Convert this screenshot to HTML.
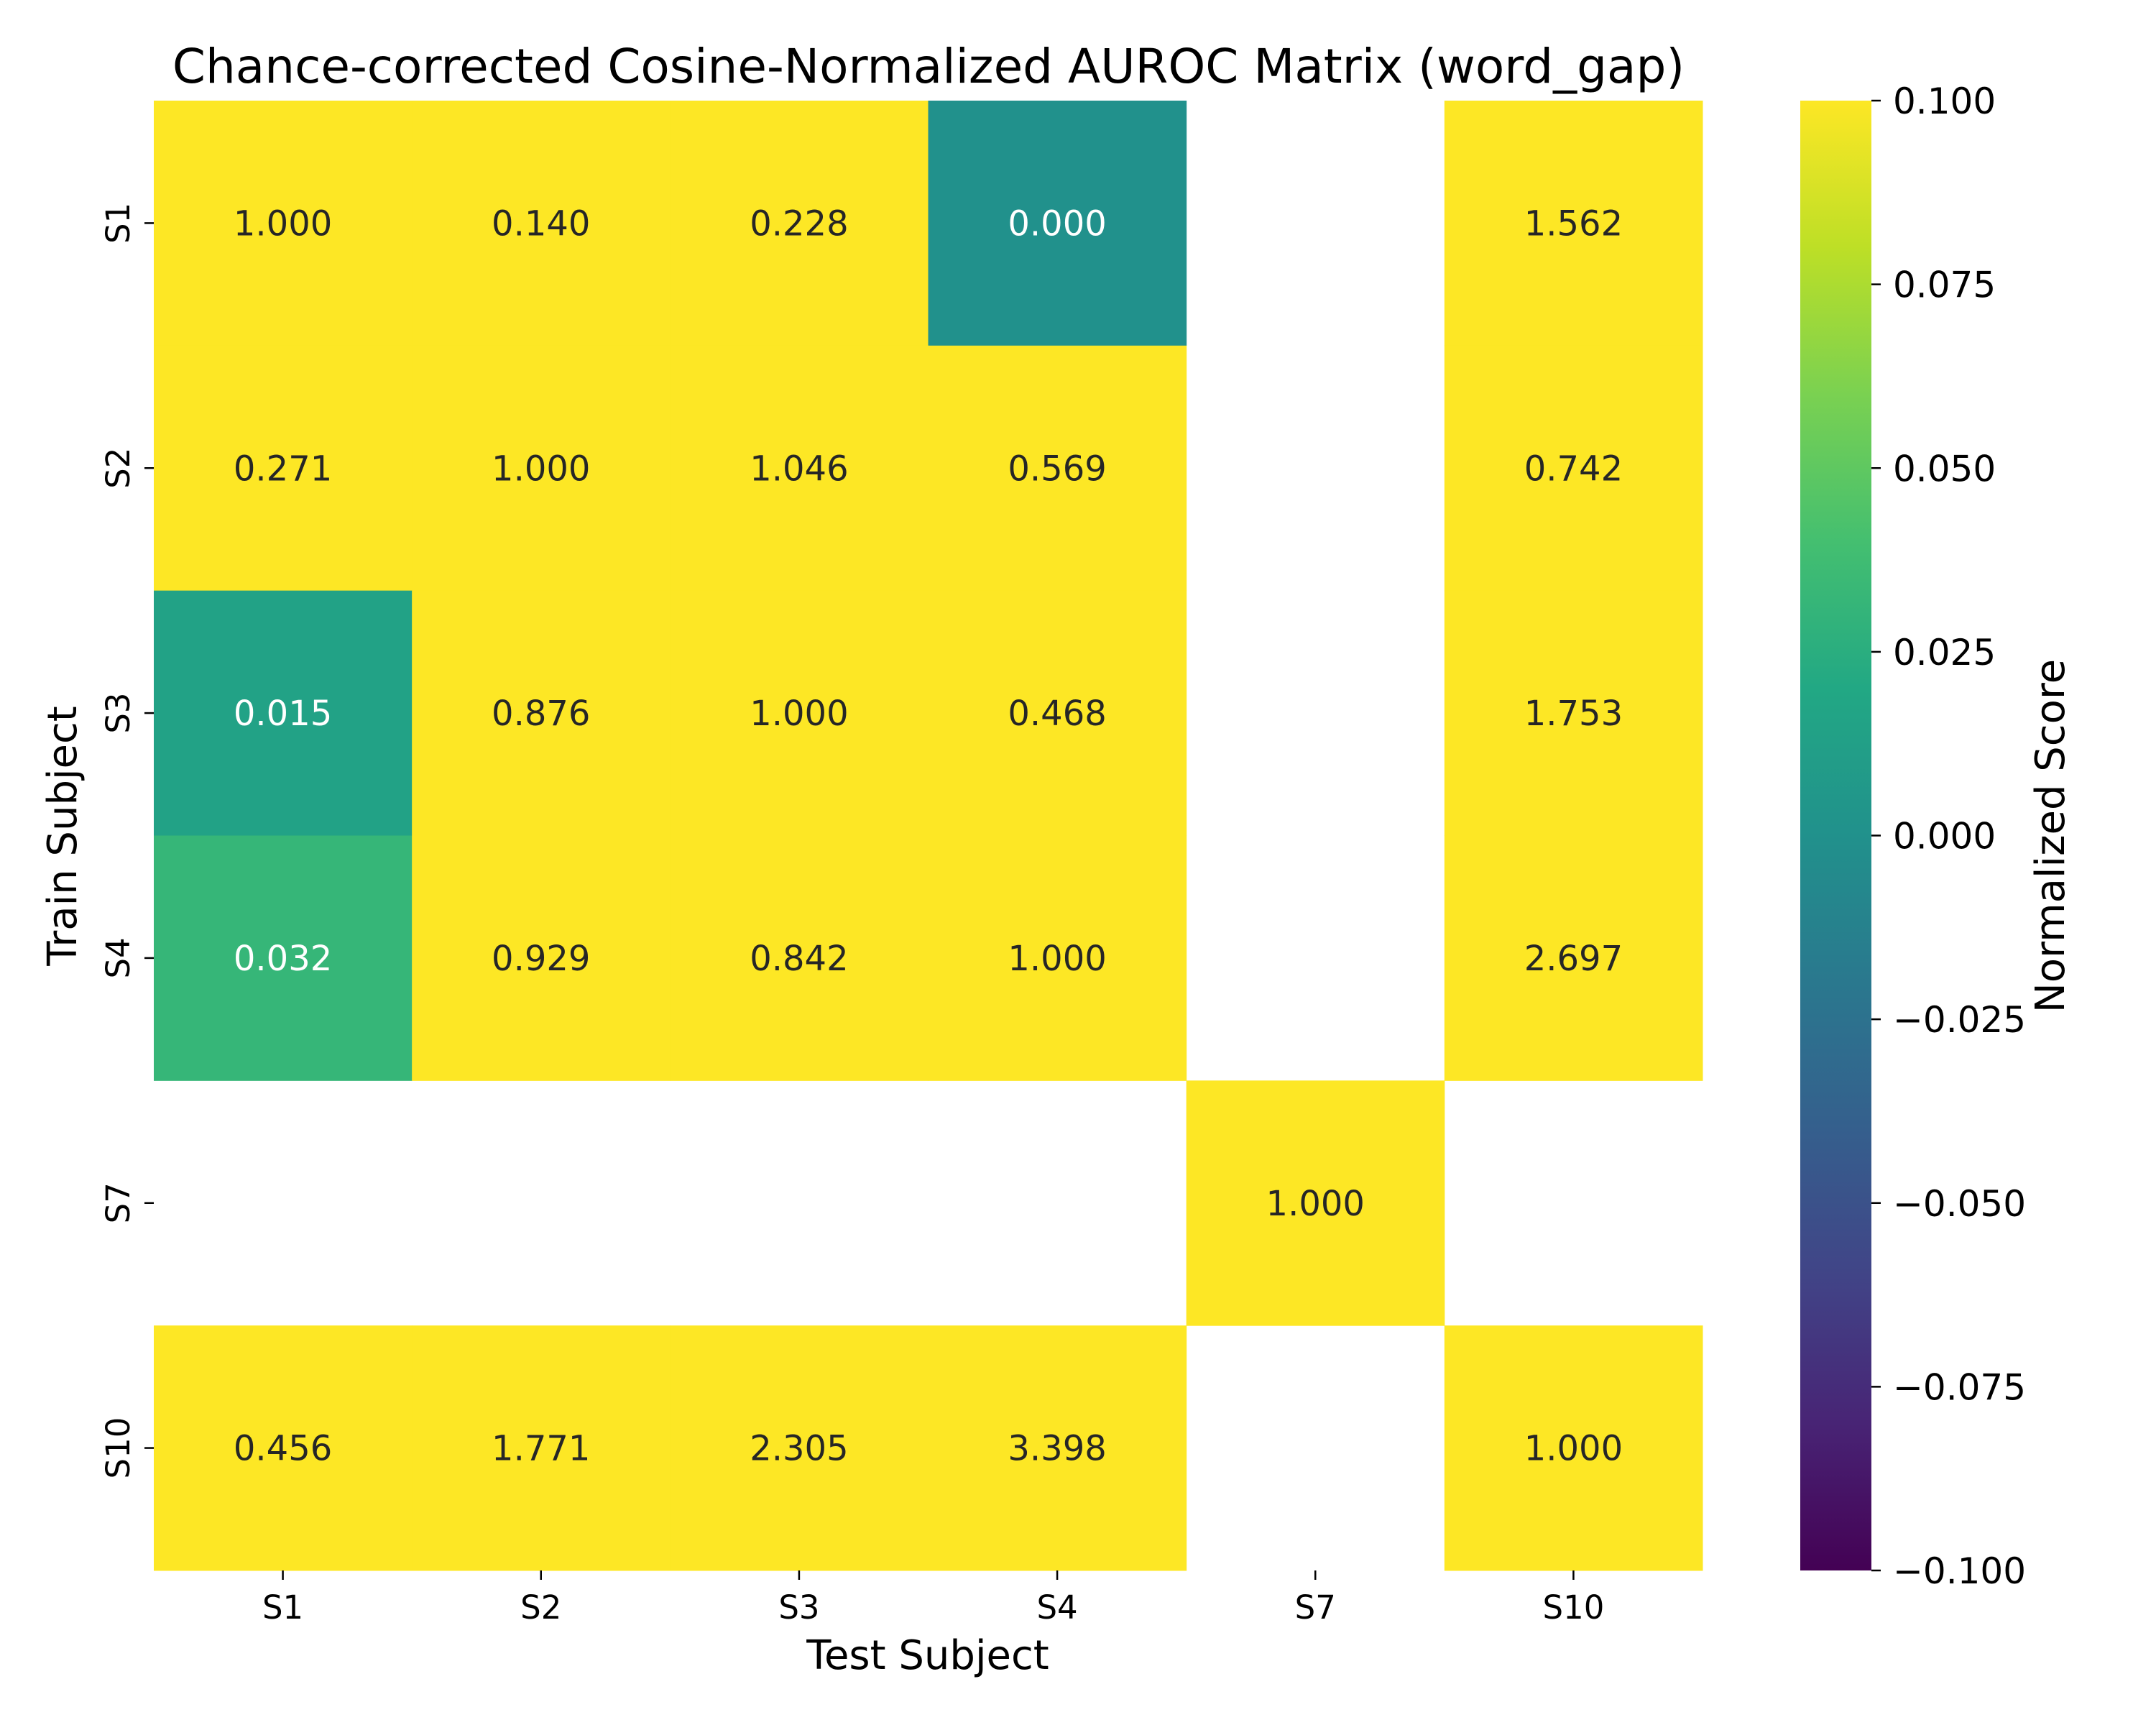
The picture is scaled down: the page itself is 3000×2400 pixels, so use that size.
<!DOCTYPE html>
<html><head><meta charset="utf-8"><style>
html,body{margin:0;padding:0;background:#fff;}
svg{display:block;font-family:"DejaVu Sans","Liberation Sans",sans-serif;}
</style></head><body>
<svg id="chart" width="3000" height="2400" viewBox="0 0 3000 2400" xmlns="http://www.w3.org/2000/svg">
<defs>
<linearGradient id="viridis" x1="0" y1="1" x2="0" y2="0">
<stop offset="0" stop-color="#440154"/><stop offset="0.1" stop-color="#482475"/><stop offset="0.2" stop-color="#414487"/><stop offset="0.3" stop-color="#355f8d"/><stop offset="0.4" stop-color="#2a788e"/><stop offset="0.5" stop-color="#21918c"/><stop offset="0.6" stop-color="#22a884"/><stop offset="0.7" stop-color="#44bf70"/><stop offset="0.8" stop-color="#7ad151"/><stop offset="0.9" stop-color="#bddf26"/><stop offset="1" stop-color="#fde725"/>
</linearGradient>
</defs>
<text x="1292" y="115" font-size="66" text-anchor="middle">Chance-corrected Cosine-Normalized AUROC Matrix (word_gap)</text>
<g id="cells"></g>
<g id="axes"></g>
<text x="1291" y="2322" font-size="56" text-anchor="middle">Test Subject</text>
<text transform="translate(106,1163) rotate(-90)" font-size="56" text-anchor="middle">Train Subject</text>
<rect x="2505" y="140" width="99" height="2045" fill="url(#viridis)"/>
<g id="cbar"></g>
<text transform="translate(2872,1163) rotate(-90)" font-size="56" text-anchor="middle">Normalized Score</text>
</svg>
<script>
const testLabels = ["S1","S2","S3","S4","S7","S10"];
const trainLabels = ["S1","S2","S3","S4","S7","S10"];
const row_S1 = [1.000, 0.140, 0.228, 0.000, null, 1.562];
const row_S2 = [0.271, 1.000, 1.046, 0.569, null, 0.742];
const row_S3 = [0.015, 0.876, 1.000, 0.468, null, 1.753];
const row_S4 = [0.032, 0.929, 0.842, 1.000, null, 2.697];
const row_S7 = [null, null, null, null, 1.000, null];
const row_S10 = [0.456, 1.771, 2.305, 3.398, null, 1.000];
const cbarTicks = [0.100, 0.075, 0.050, 0.025, 0.000, -0.025, -0.050, -0.075, -0.100];
const vmin = -0.1, vmax = 0.1;

const rows = [row_S1,row_S2,row_S3,row_S4,row_S7,row_S10];
const X0=214, X1=2369, Y0=140, Y1=2185;
const cw=(X1-X0)/testLabels.length, ch=(Y1-Y0)/trainLabels.length;
const xPos=i=>X0+i*cw, yPos=j=>Y0+j*ch;
const cbY=v=>Y1-(v-vmin)/(vmax-vmin)*(Y1-Y0);
const vir=[[68,1,84],[72,36,117],[65,68,135],[53,95,141],[42,120,142],[33,145,140],[34,168,132],[68,191,112],[122,209,81],[189,223,38],[253,231,37]];
function color(v){let t=(Math.min(Math.max(v,vmin),vmax)-vmin)/(vmax-vmin);let f=t*10,i=Math.min(9,Math.floor(f)),r=f-i;
const c=vir[i].map((a,k)=>Math.round(a+(vir[i+1][k]-a)*r));return {fill:`rgb(${c})`,lum:(0.299*c[0]+0.587*c[1]+0.114*c[2])};}
const NS="http://www.w3.org/2000/svg";
function mk(tag,attrs,parent,text){const e=document.createElementNS(NS,tag);for(const k in attrs)e.setAttribute(k,attrs[k]);if(text!==undefined)e.textContent=text;parent.appendChild(e);return e;}
const cells=document.getElementById('cells'), axes=document.getElementById('axes'), cb=document.getElementById('cbar');
rows.forEach((row,j)=>{row.forEach((v,i)=>{if(v===null)return;const c=color(v);
const r=mk('rect',{x:xPos(i),y:yPos(j),width:cw+0.5,height:ch+0.5,fill:c.fill},cells);


const t=mk('text',{x:xPos(i)+cw/2,y:yPos(j)+ch/2+17,'font-size':48,'text-anchor':'middle',fill:c.lum<150?'#ffffff':'#262626'},cells,v.toFixed(3));

});});
testLabels.forEach((l,i)=>{const x=xPos(i)+cw/2;mk('line',{x1:x,x2:x,y1:Y1,y2:Y1+13,stroke:'#000','stroke-width':2.5},axes);
const t=mk('text',{x:x,y:Y1+67,'font-size':45,'text-anchor':'middle'},axes,l);

});
trainLabels.forEach((l,j)=>{const y=yPos(j)+ch/2;mk('line',{x1:X0-13,x2:X0,y1:y,y2:y,stroke:'#000','stroke-width':2.5},axes);
const t=mk('text',{transform:`translate(${X0-34},${y}) rotate(-90)`,'font-size':45,'text-anchor':'middle'},axes,l);

});
cbarTicks.forEach(v=>{const y=cbY(v);mk('line',{x1:2604,x2:2617,y1:y,y2:y,stroke:'#000','stroke-width':2.5},cb);
const t=mk('text',{x:2634,y:y+18,'font-size':50},cb,(v<0?'\u2212':'')+Math.abs(v).toFixed(3));

});
</script>
</body></html>
